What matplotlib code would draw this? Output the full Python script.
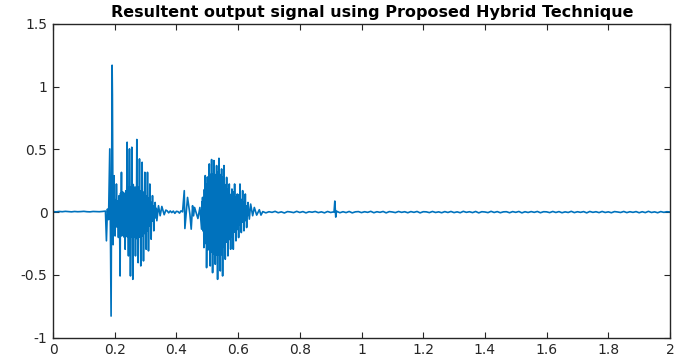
import numpy as np
import matplotlib
matplotlib.use("Agg")
import matplotlib.pyplot as plt

# ---- signal data (time in seconds, amplitude) ----
# quiet lead-in before the first word
lead_vals = [0.004, 0.002, 0.005, 0.003, 0.006, 0.004, 0.002, 0.005, 0.003,
             0.004, 0.006, 0.003, 0.002, 0.005, 0.004, 0.003, 0.005, 0.008]
lead_span = (0.0, 0.17)

# first word: main peak / trough sequence
burst1_t = [0.1732, 0.1764, 0.1800, 0.1840, 0.1883, 0.1916, 0.1926, 0.1948,
            0.1980, 0.2013, 0.2056, 0.2121, 0.2175, 0.2219, 0.2251, 0.2294,
            0.2338, 0.2403, 0.2446, 0.2478, 0.2511, 0.2554, 0.2587, 0.2630,
            0.2673, 0.2717, 0.2760, 0.2803, 0.2846, 0.2890, 0.2933, 0.2976,
            0.3019, 0.3063, 0.3095, 0.3139, 0.3182, 0.3225, 0.3268, 0.3312,
            0.3366, 0.3420, 0.3474, 0.3528, 0.3604, 0.3658]
burst1_v = [-0.229, 0.024, -0.06, 0.504, -0.829, 1.171, 0.931, -0.26,
            0.290, -0.190, 0.224, -0.202, -0.509, 0.317, -0.136, 0.104,
            -0.296, 0.557, -0.349, 0.504, -0.509, 0.517, -0.536, 0.184,
            -0.349, 0.579, -0.403, 0.424, -0.429, 0.397, -0.389, 0.317,
            -0.296, 0.317, -0.309, 0.224, -0.216, 0.131, -0.149, 0.077,
            -0.069, 0.051, -0.029, 0.045, -0.021, 0.016]
# smaller swings between consecutive peaks (None: no extra swing)
burst1_inner = [None, None, None, None, None, None, None,
                (0.10, -0.08), (-0.07, 0.10), (0.08, -0.10), (-0.12, 0.09),
                (0.13, -0.07), (0.15, -0.17), (-0.19, 0.13), (0.16, -0.15),
                (-0.20, 0.15), (0.17, -0.19), (-0.20, 0.19), (0.20, -0.22),
                (-0.23, 0.20), (0.17, -0.20), (-0.20, 0.20), (0.22, -0.20),
                (-0.20, 0.20), (0.19, -0.21), (-0.20, 0.20), (0.19, -0.20),
                (-0.20, 0.17), (0.17, -0.19), (-0.19, 0.16), (0.15, -0.17),
                (-0.16, 0.13), (0.12, -0.15), (-0.13, 0.11), (0.10, -0.11),
                (-0.09, 0.08), (0.07, -0.07), (-0.07, 0.05), (0.04, -0.05),
                (-0.04, 0.03), None, None, None, None, None]

# pause between the two words
gap_vals = [0.010, -0.006, 0.009, -0.004, 0.008, -0.010, 0.006, 0.004,
            -0.008, 0.010, 0.002]
gap_span = (0.37, 0.42)

# second word: main peak / trough sequence
burst2_t = [0.4255, 0.4275, 0.4361, 0.4437, 0.4480, 0.4524, 0.4556, 0.4589,
            0.4697, 0.4762, 0.4816, 0.4848, 0.4892, 0.4935, 0.4978, 0.5065,
            0.5097, 0.5141, 0.5173, 0.5216, 0.5260, 0.5303, 0.5335, 0.5379,
            0.5422, 0.5465, 0.5498, 0.5541, 0.5584, 0.5628, 0.5671, 0.5714,
            0.5758, 0.5801, 0.5844, 0.5887, 0.5931, 0.5974, 0.6017, 0.6061,
            0.6104, 0.6147, 0.6190, 0.6234, 0.6277, 0.6320, 0.6364, 0.6407,
            0.6472, 0.6526, 0.6602, 0.6688, 0.6742]
burst2_v = [0.171, -0.131, 0.117, -0.016, -0.136, 0.051, -0.030, 0.037,
            -0.051, 0.037, -0.136, 0.117, -0.283, 0.291, -0.443, 0.384,
            -0.429, 0.419, -0.483, 0.411, -0.416, 0.371, -0.536, 0.429,
            -0.469, 0.344, -0.509, 0.371, -0.376, 0.277, -0.349, 0.224,
            -0.296, 0.184, -0.296, 0.224, -0.229, 0.144, -0.203, 0.224,
            -0.163, 0.171, -0.149, 0.144, -0.123, 0.077, -0.056, 0.064,
            -0.029, 0.037, -0.024, 0.019, -0.024]
burst2_inner = [None, None, None, None, None, None, None, None, None, None,
                (0.08, -0.10), (-0.15, 0.10), (0.18, -0.20), (-0.25, 0.22),
                (0.28, -0.30), (-0.30, 0.28), (0.30, -0.32), (-0.32, 0.30),
                (0.30, -0.33), (-0.30, 0.30), (0.28, -0.32), (-0.34, 0.30),
                (0.32, -0.34), (-0.32, 0.30), (0.28, -0.32), (-0.34, 0.28),
                (0.28, -0.28), (-0.26, 0.22), (0.20, -0.24), (-0.24, 0.18),
                (0.16, -0.22), (-0.20, 0.14), (0.14, -0.20), (-0.18, 0.14),
                (0.16, -0.16), (-0.15, 0.12), (0.10, -0.14), (-0.12, 0.12),
                (0.14, -0.10), (-0.10, 0.10), (0.10, -0.08), (-0.08, 0.08),
                (0.06, -0.07), (-0.06, 0.05), (0.04, -0.03),
                None, None, None, None, None, None, None]

# residual noise after speech ends, one value per 10 ms
tail_vals = [0.004, -0.006, 0.003, -0.002, 0.006, -0.005, 0.002, -0.007, 0.004, 0.001, -0.004, 0.006,
             -0.003, 0.004, -0.006, 0.003, -0.001, 0.005, -0.004, 0.002, -0.006, 0.005, -0.003, 0.002,
             0.006, -0.005, 0.003, -0.004, 0.005, -0.006, 0.002, 0.004, -0.004, 0.003, -0.002, 0.006,
             -0.005, 0.003, -0.002, 0.005, -0.006, 0.004, 0.001, -0.004, 0.005, -0.002, 0.003, -0.005,
             0.004, -0.002, 0.005, -0.006, 0.003, 0.002, -0.004, 0.005, -0.003, 0.002, -0.005, 0.004,
             -0.003, 0.005, -0.004, 0.002, -0.005, 0.006, -0.002, 0.003, -0.004, 0.005, -0.006, 0.003,
             0.001, -0.004, 0.006, -0.003, 0.004, -0.005, 0.002, 0.003, -0.005, 0.004, -0.002, 0.005,
             -0.006, 0.003, -0.003, 0.004, -0.002, 0.005, -0.005, 0.003, 0.002, -0.004, 0.005, -0.003,
             0.004, -0.005, 0.002, -0.003, 0.006, -0.004, 0.003, -0.002, 0.004, -0.006, 0.005, -0.002,
             0.003, -0.004, 0.005, -0.003, 0.002, -0.005, 0.004, 0.001, -0.003, 0.005, -0.004, 0.003,
             -0.002, 0.004, -0.005, 0.003, -0.004, 0.006, -0.003, 0.002, -0.005, 0.004, -0.002, 0.003,
             0.001]
tail_span = (0.68, 2.0)

# isolated click near 0.92 s
click_t = [0.9110, 0.9135, 0.9165, 0.9190]
click_v = [0.000, 0.088, -0.040, 0.008]

x_ticks = [0, 0.2, 0.4, 0.6, 0.8, 1, 1.2, 1.4, 1.6, 1.8, 2]
x_labels = ["0", "0.2", "0.4", "0.6", "0.8", "1", "1.2", "1.4", "1.6", "1.8", "2"]
y_ticks = [-1, -0.5, 0, 0.5, 1, 1.5]
y_labels = ["-1", "-0.5", "0", "0.5", "1", "1.5"]
title = "Resultent output signal using Proposed Hybrid Technique"


def expand(times, values, inner):
    """Insert the smaller swings at thirds of each peak-to-peak interval."""
    out_t, out_v = [], []
    for i in range(len(times)):
        out_t.append(times[i])
        out_v.append(values[i])
        if i < len(inner) and inner[i] is not None:
            dt = times[i + 1] - times[i]
            out_t += [times[i] + dt / 3, times[i] + 2 * dt / 3]
            out_v += list(inner[i])
    return out_t, out_v


# ---- assemble the waveform ----
lead_t = np.linspace(*lead_span, len(lead_vals))
gap_t = np.linspace(*gap_span, len(gap_vals))
tail_t = np.linspace(*tail_span, len(tail_vals))
b1_t, b1_v = expand(burst1_t, burst1_v, burst1_inner)
b2_t, b2_v = expand(burst2_t, burst2_v, burst2_inner)

t = np.concatenate([lead_t, b1_t, gap_t, b2_t, tail_t, click_t])
v = np.concatenate([lead_vals, b1_v, gap_vals, b2_v, tail_vals, click_v])
order = np.argsort(t, kind="stable")
t, v = t[order], v[order]

# ---- figure ----
plt.rcParams["font.family"] = ["DejaVu Sans"]
fig = plt.figure(figsize=(6.85, 3.61), dpi=100)
ax = fig.add_axes([53 / 685, 1 - 337.5 / 361, 617 / 685, 313.5 / 361])

ax.plot(t, v, color="#0072BD", linewidth=1.2)

ax.set_xlim(0, 2)
ax.set_ylim(-1, 1.5)
ax.set_xticks(x_ticks)
ax.set_xticklabels(x_labels)
ax.set_yticks(y_ticks)
ax.set_yticklabels(y_labels)
ax.tick_params(direction="in", length=4, width=0.8, top=True, right=True,
               labelsize=10, colors="#262626", pad=4)
for s in ax.spines.values():
    s.set_linewidth(1.0)
    s.set_color("#262626")

ax.set_title(title, fontsize=11.5, fontweight="bold", pad=5)
ax.title.set_x(0.517)

fig.savefig("out.png", dpi=100)
